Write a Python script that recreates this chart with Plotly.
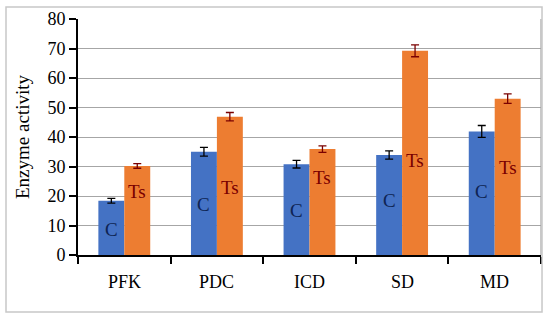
import plotly.graph_objects as go

categories = ["PFK", "PDC", "ICD", "SD", "MD"]
c_values = [18.4, 35.0, 30.8, 33.9, 41.9]
c_errors = [0.8, 1.5, 1.3, 1.4, 2.0]
ts_values = [30.2, 46.9, 35.9, 69.2, 53.0]
ts_errors = [0.8, 1.4, 1.1, 2.0, 1.6]
c_label_heights = [8.8, 17.0, 15.0, 18.6, 21.5]
ts_label_heights = [21.5, 23.0, 26.4, 32.0, 29.5]
y_ticks = [0, 10, 20, 30, 40, 50, 60, 70, 80]

serif = "Liberation Serif, Times New Roman, serif"

fig = go.Figure()
fig.add_trace(go.Bar(
    x=categories, y=c_values, name="C",
    marker=dict(color="#4472C4", line=dict(width=0)),
    error_y=dict(type="data", array=c_errors, color="#000000", thickness=1.3, width=4),
))
fig.add_trace(go.Bar(
    x=categories, y=ts_values, name="Ts",
    marker=dict(color="#ED7D31", line=dict(width=0)),
    error_y=dict(type="data", array=ts_errors, color="#7A0000", thickness=1.3, width=4),
))

annotations = []
for i, cat in enumerate(categories):
    annotations.append(dict(x=i - 0.14, y=c_label_heights[i], xref="x", yref="y",
                            text="C", showarrow=False,
                            font=dict(family=serif, size=19, color="#0E2453")))
    annotations.append(dict(x=i + 0.14, y=ts_label_heights[i], xref="x", yref="y",
                            text="Ts", showarrow=False,
                            font=dict(family=serif, size=19, color="#7A0000")))
    annotations.append(dict(x=cat, y=-0.114, xref="x", yref="paper",
                            text=cat, showarrow=False, yanchor="middle",
                            font=dict(family=serif, size=18, color="#000000")))

shapes = [
    dict(type="line", xref="paper", yref="paper", x0=1, x1=1, y0=0, y1=1,
         line=dict(color="#A6A6A6", width=1.2)),
    dict(type="rect", xref="paper", yref="paper", x0=-0.1555, x1=1.0022,
         y0=-0.2415, y1=1.0508, line=dict(color="#C8C8C8", width=1.5)),
]

fig.update_layout(
    width=550, height=320,
    margin=dict(l=78, r=9, t=19, b=65, autoexpand=False),
    paper_bgcolor="white", plot_bgcolor="white",
    barmode="group", bargap=0.44, bargroupgap=0,
    showlegend=False,
    annotations=annotations, shapes=shapes,
    font=dict(family=serif, size=18, color="#000000"),
    xaxis=dict(
        automargin=False,
        showline=True, linecolor="#000000", linewidth=2,
        ticks="outside", tickson="boundaries", ticklen=7, tickwidth=2, tickcolor="#000000",
        showticklabels=False,
        showgrid=False,
    ),
    yaxis=dict(
        automargin=False,
        range=[0, 80], tickvals=y_ticks,
        showline=True, linecolor="#000000", linewidth=2,
        ticks="outside", ticklen=7, tickwidth=2, tickcolor="#000000",
        tickfont=dict(family=serif, size=18, color="#000000"),
        showgrid=True, gridcolor="#A6A6A6", gridwidth=1.2,
        zeroline=False,
        title=dict(text="Enzyme activity", font=dict(family=serif, size=19, color="#000000"), standoff=13),
    ),
)

fig.write_html(
    "out.html",
    post_script=(
        "document.body.style.margin='0px';"
        "var s=document.createElement('style');"
        "s.innerHTML='.modebar-container{display:none !important;}';"
        "document.head.appendChild(s);"
    ),
)
